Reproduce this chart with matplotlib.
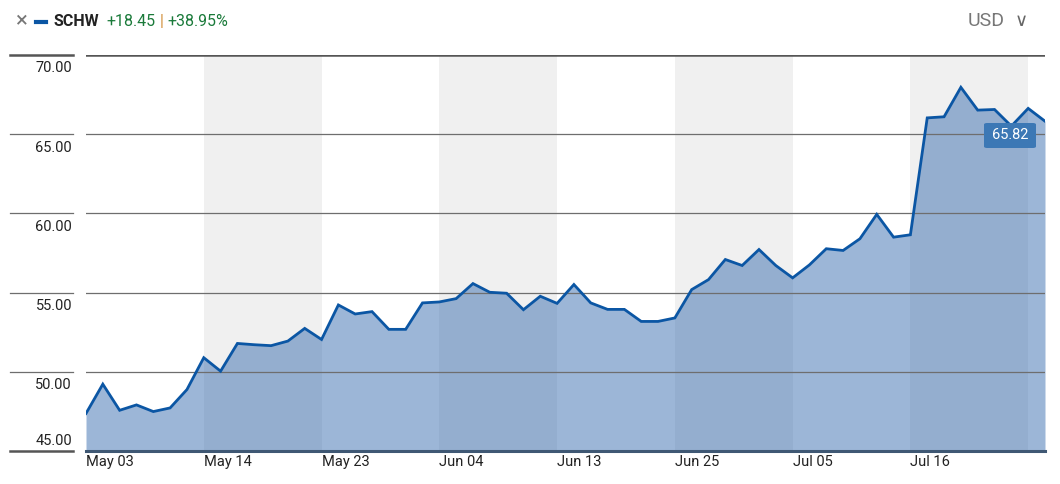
import matplotlib
matplotlib.use("Agg")
import matplotlib.pyplot as plt
import matplotlib.transforms as mtrans
from matplotlib.patches import FancyBboxPatch
import numpy as np

plt.rcParams['font.family'] = ['Liberation Sans Narrow', 'Roboto', 'DejaVu Sans']

# closing prices, one per trading day
prices = [47.37, 49.22, 47.57, 47.91, 47.49, 47.72, 48.88, 50.89, 50.04, 51.79,
          51.71, 51.65, 51.94, 52.74, 52.04, 54.22, 53.65, 53.80, 52.68, 52.68,
          54.35, 54.41, 54.62, 55.57, 55.02, 54.96, 53.92, 54.77, 54.32, 55.51,
          54.35, 53.94, 53.94, 53.18, 53.18, 53.40, 55.19, 55.82, 57.09, 56.71,
          57.72, 56.71, 55.93, 56.75, 57.77, 57.66, 58.40, 59.94, 58.50, 58.65,
          66.03, 66.10, 67.96, 66.52, 66.56, 65.51, 66.63, 65.82]
tick_idx = [0, 7, 14, 21, 28, 35, 42, 49]
tick_labels = ["May 03", "May 14", "May 23", "Jun 04", "Jun 13", "Jun 25", "Jul 05", "Jul 16"]
y_ticks = [45, 50, 55, 60, 65, 70]

line_col = "#0b56a4"
x = np.arange(len(prices))

fig = plt.figure(figsize=(10.6, 4.84), dpi=100)
ax = fig.add_axes([86/1060, 1-451/484, (1045-86)/1060, (451-55)/484])
ax.set_xlim(0, len(prices)-1)
ax.set_ylim(45, 70)

# alternating grey bands
for i in range(1, len(tick_idx), 2):
    end = tick_idx[i+1] if i+1 < len(tick_idx) else tick_idx[i] + 7
    ax.axvspan(tick_idx[i], end, color="#f0f0f0", lw=0, zorder=0)

ax.fill_between(x, prices, 45, color="#3a6eb0", alpha=0.5, lw=0, zorder=1)
for yv in y_ticks[1:-1]:
    ax.axhline(yv, color="#6e6e6e", lw=0.9, zorder=2)
ax.axhline(70, color="#555555", lw=1.8, zorder=2)
ax.plot(x, prices, color=line_col, lw=2, zorder=3, solid_joinstyle="miter")

for s in ax.spines.values():
    s.set_visible(False)
ax.spines['bottom'].set_visible(True)
ax.spines['bottom'].set_color("#3f5874")
ax.spines['bottom'].set_linewidth(2.2)
ax.set_yticks([])
ax.set_xticks(tick_idx)
ax.set_xticklabels(tick_labels, ha="left", fontsize=10.5, color="#222222")
ax.tick_params(axis="x", length=0, pad=3)

# left side y labels with short rules
tr = mtrans.blended_transform_factory(fig.transFigure, ax.transData)
for yv in y_ticks:
    lw = 1.8 if yv in (45, 70) else 0.9
    col = "#555555" if yv in (45, 70) else "#6e6e6e"
    ax.plot([10/1060, 73/1060], [yv, yv], transform=tr, color=col, lw=lw, clip_on=False)
    off = 0.6 if yv == 45 else -0.85
    ax.text(72/1060, yv + off, f"{yv:.2f}", transform=tr, ha="right", va="center",
            fontsize=10.5, color="#222222")

# last price tag
box = FancyBboxPatch((984/1060, 1-148/484), 52/1060, 25/484, boxstyle="round,pad=0,rounding_size=0.003",
                     transform=fig.transFigure, facecolor="#3c78b5", edgecolor="none", zorder=5)
fig.patches.append(box)
fig.text(1010/1060, 1-135/484, f"{prices[-1]:.2f}", ha="center", va="center", color="white",
         fontsize=10.5, zorder=6)

# header, laid out left to right
fig.canvas.draw()
rend = fig.canvas.get_renderer()
hy = 1 - 22/484
fig.text(15/1060, hy, "×", fontsize=16, color="#777777", va="center")
fig.add_artist(plt.Line2D([36/1060, 46/1060], [hy, hy], color=line_col, lw=3))
px = 53
for txt, col, wt, gap in [("SCHW", "#222222", "bold", 8), ("+18.45", "#1a7a3a", "normal", 4),
                          ("|", "#d08a30", "normal", 4), ("+38.95%", "#1a7a3a", "normal", 0)]:
    t = fig.text(px/1060, hy, txt, fontsize=11.5, fontweight=wt, color=col, va="center")
    px = t.get_window_extent(rend).x1 + gap
fig.text(968/1060, 1-21/484, "USD", fontsize=14, color="#777777", va="center")
fig.text(1015/1060, 1-21/484, "∨", fontsize=13, color="#666666", va="center")

fig.savefig("out.png", dpi=100)
